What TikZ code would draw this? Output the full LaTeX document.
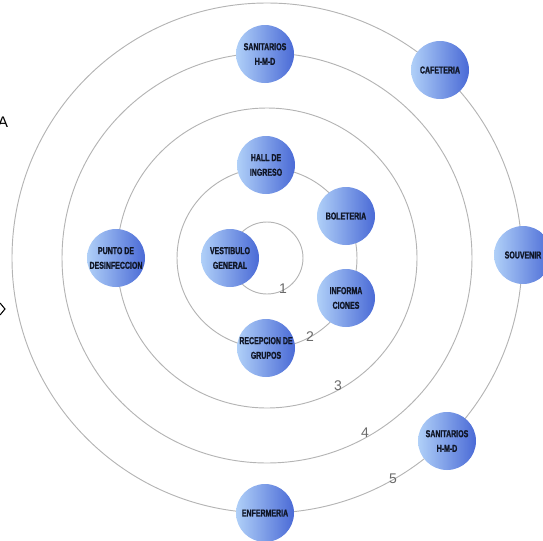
\documentclass[tikz,border=0pt]{standalone}
\usepackage{fontspec}
\setmainfont{Liberation Sans}
\newfontfamily\nodefont{Liberation Sans Bold}[FakeStretch=0.7, FakeBold=1.2]
\definecolor{ringgray}{HTML}{B4B4B4}
\definecolor{nodeL}{HTML}{B0D0F8}
\definecolor{nodeR}{HTML}{4A6AD6}
\definecolor{nodetext}{HTML}{101626}
\definecolor{numgray}{HTML}{6A6A6A}
\begin{document}
\begin{tikzpicture}[x=0.75pt,y=-0.75pt,
  ring/.style={draw=ringgray, line width=0.7pt},
  room/.style={circle, minimum size=43.5pt, inner sep=0pt, left color=nodeL, right color=nodeR,
    font=\nodefont\fontsize{7.5}{11}\selectfont, text=nodetext, align=center},
  num/.style={font=\fontsize{10.5}{12}\selectfont, text=numgray, inner sep=0pt}]
\useasboundingbox (0,0) rectangle (543,540);
\coordinate (c) at (267,258);
\draw[ring] (c) circle[radius=36];
\draw[ring] (c) circle[radius=90];
\draw[ring] (c) circle[radius=150];
\draw[ring] (c) circle[radius=205];
\draw[ring] (c) circle[radius=255];
% rooms
\node[room] (san1) at (265,54) {SANITARIOS\\H-M-D};
\node[room] (caf) at (440,70) {CAFETERIA};
\node[room] (hall) at (266,165) {HALL DE\\INGRESO};
\node[room] (bol) at (346,216) {BOLETERIA};
\node[room] (punto) at (116,258) {PUNTO DE\\DESINFECCION};
\node[room] (vest) at (230,258) {VESTIBULO\\GENERAL};
\node[room] (souv) at (523,255) {SOUVENIR};
\node[room] (info) at (346,298) {INFORMA\\CIONES};
\node[room] (recep) at (266,348) {RECEPCION DE\\GRUPOS};
\node[room] (san2) at (447,441) {SANITARIOS\\H-M-D};
\node[room] (enf) at (265,513) {ENFERMERIA};
% ring numbers
\node[num] (n1) at (283,289) {1};
\node[num] (n2) at (310,337) {2};
\node[num] (n3) at (338,386) {3};
\node[num] (n4) at (365,433) {4};
\node[num] (n5) at (393,479) {5};
% cut-off fragments at left edge
\node[font=\fontsize{11.5}{13}\selectfont, inner sep=0pt] (fa) at (3,122) {A};
\coordinate (d1) at (0,303);
\coordinate (d2) at (5,309);
\coordinate (d3) at (0,315);
\draw[line width=0.8pt] (d1) -- (d2) -- (d3);
\end{tikzpicture}
\end{document}
